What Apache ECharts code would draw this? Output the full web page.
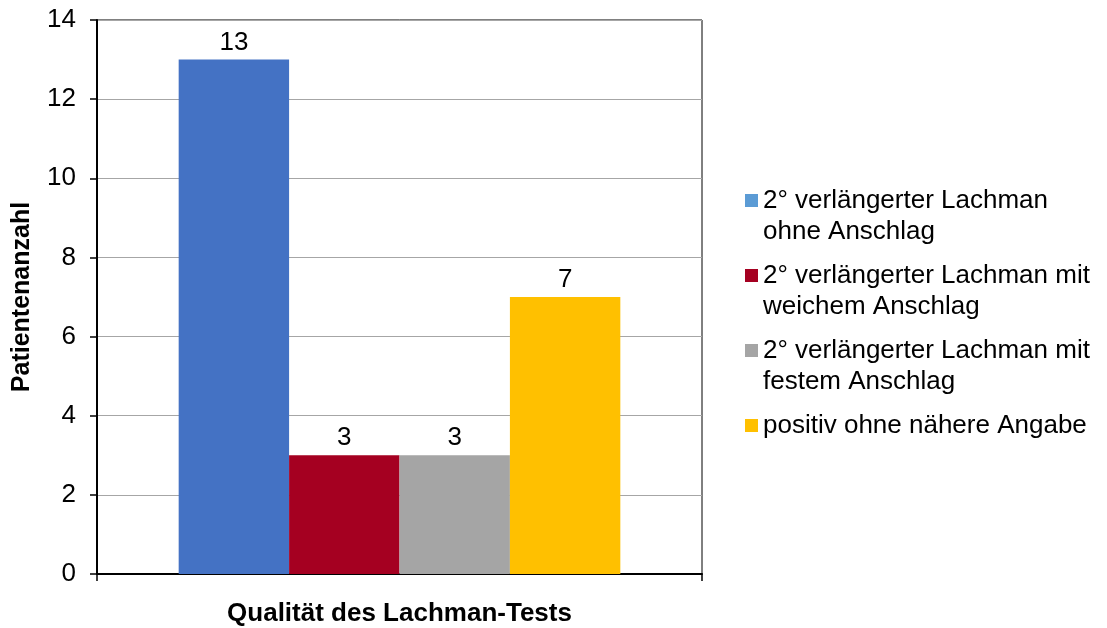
<!DOCTYPE html>
<html>
<head>
<meta charset="utf-8">
<script src="https://cdn.jsdelivr.net/npm/echarts@6/dist/echarts.min.js"></script>
<style>
  html, body { margin: 0; padding: 0; background: #fff; }
  #chart { width: 1107px; height: 628px; }
</style>
</head>
<body>
<div id="chart"></div>
<script>
var categories = [''];
var seriesNames = [
    '2° verlängerter Lachman ohne Anschlag',
    '2° verlängerter Lachman mit weichem Anschlag',
    '2° verlängerter Lachman mit festem Anschlag',
    'positiv ohne nähere Angabe'
];
// blank first line so the icon lines up with the first text line
var legendLabels = [
    ' \n2° verlängerter Lachman\nohne Anschlag',
    ' \n2° verlängerter Lachman mit\nweichem Anschlag',
    ' \n2° verlängerter Lachman mit\nfestem Anschlag',
    ' \npositiv ohne nähere Angabe\n '
];
var values = [13, 3, 3, 7];
var barColors = ['#4472C4', '#A50021', '#A5A5A5', '#FFC000'];
var legendColors = ['#5B9BD5', '#A50021', '#A5A5A5', '#FFC000'];

var font = 'Liberation Sans, Arial, sans-serif';
var myChart = echarts.init(document.getElementById('chart'));

var series = [];
var legendData = [];
seriesNames.forEach(function(name, i){
    series.push({
        name: name,
        type: 'bar',
        data: [values[i]],
        barGap: '0%',
        barCategoryGap: '27%',
        itemStyle: { color: barColors[i] },
        label: {
            show: true,
            position: 'top',
            distance: 4,
            color: '#000',
            fontSize: 26,
            fontFamily: font
        }
    });
    legendData.push({ name: name, itemStyle: { color: legendColors[i] } });
});

var option = {
    animation: false,
    backgroundColor: '#fff',
    grid: {
        left: 97, top: 20, right: 405, bottom: 54,
        outerBoundsMode: 'none',
        show: true, borderColor: '#000', borderWidth: 1
    },
    legend: {
        orient: 'vertical',
        left: 745,
        top: 154,
        padding: 0,
        itemWidth: 13,
        itemHeight: 13,
        itemGap: -18,
        icon: 'rect',
        data: legendData,
        formatter: function(name){
            return legendLabels[seriesNames.indexOf(name)];
        },
        textStyle: {
            fontSize: 26,
            fontFamily: font,
            color: '#000',
            lineHeight: 31
        }
    },
    xAxis: {
        type: 'category',
        data: categories,
        name: 'Qualität des Lachman-Tests',
        nameLocation: 'middle',
        nameGap: 27,
        nameTextStyle: { fontSize: 26, fontWeight: 'bold', fontFamily: font, color: '#000' },
        axisLine: { lineStyle: { color: '#000', width: 2 } },
        axisTick: { show: true, length: 7, lineStyle: { color: '#000', width: 1.5 } },
        axisLabel: { show: false }
    },
    yAxis: {
        type: 'value',
        min: 0, max: 14, interval: 2,
        name: 'Patientenanzahl',
        nameLocation: 'middle',
        nameGap: 62,
        nameTextStyle: { fontSize: 25, fontWeight: 'bold', fontFamily: font, color: '#000' },
        axisLine: { show: true, lineStyle: { color: '#000', width: 2 } },
        axisTick: { show: true, length: 7, lineStyle: { color: '#000', width: 1.5 } },
        axisLabel: { fontSize: 26, fontFamily: font, color: '#000', margin: 21 },
        splitLine: { lineStyle: { color: '#A6A6A6', width: 1.2 } }
    },
    series: series
};
myChart.setOption(option);
</script>
</body>
</html>
